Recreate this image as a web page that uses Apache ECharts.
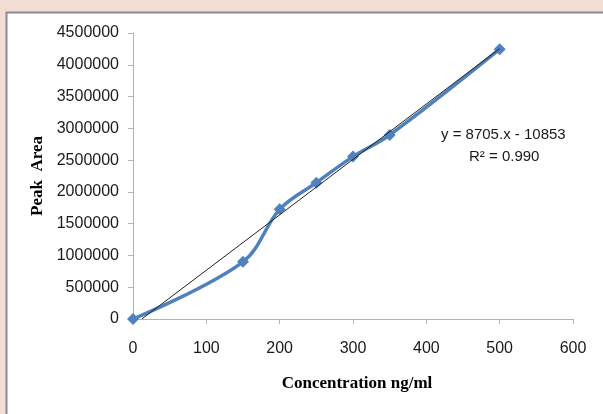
<!DOCTYPE html>
<html>
<head>
<meta charset="utf-8">
<script src="https://cdn.jsdelivr.net/npm/echarts@6/dist/echarts.min.js"></script>
<style>
  html, body { margin: 0; padding: 0; background: #f2ded5; }
  #main { width: 603px; height: 414px; }
</style>
</head>
<body>
<div id="main"></div>
<script>
// data
var concentration = [0, 150, 200, 250, 300, 350, 500];
var peakArea = [0, 900000, 1725000, 2145000, 2555000, 2895000, 4245000];
// linear trendline endpoints
var trendX = [12, 500];
var trendY = [0, 4255000];
var yTicks = [0, 500000, 1000000, 1500000, 2000000, 2500000, 3000000, 3500000, 4000000, 4500000];
var xTicks = [0, 100, 200, 300, 400, 500, 600];

var myChart = echarts.init(document.getElementById('main'));

var option = {
    backgroundColor: '#f2ded5',
    animation: false,
    graphic: [
        {
            type: 'rect',
            z: -10,
            shape: { x: 6.5, y: 12.5, width: 620, height: 420 },
            style: { fill: '#ffffff', stroke: '#8c8c8c', lineWidth: 2 }
        },
        {
            type: 'text',
            left: 441,
            top: 127,
            style: {
                text: 'y = 8705.x - 10853',
                font: '15px "Liberation Sans"',
                fill: '#1a1a1a'
            }
        },
        {
            type: 'text',
            left: 469,
            top: 149,
            style: {
                text: 'R² = 0.990',
                font: '15px "Liberation Sans"',
                fill: '#1a1a1a'
            }
        }
    ],
    grid: {
        left: 133,
        right: 30,
        top: 33,
        bottom: 95
    },
    xAxis: {
        type: 'value',
        min: xTicks[0],
        max: xTicks[xTicks.length - 1],
        interval: 100,
        name: 'Concentration ng/ml',
        nameLocation: 'middle',
        nameGap: 56,
        nameTextStyle: {
            fontFamily: 'Liberation Serif',
            fontWeight: 'bold',
            fontSize: 17,
            color: '#000',
            padding: [0, 0, 0, 8]
        },
        splitLine: { show: false },
        axisLine: { show: true, lineStyle: { color: '#b3b3b3', width: 1 } },
        axisTick: { show: true, length: 5, lineStyle: { color: '#b3b3b3' } },
        axisLabel: {
            margin: 22,
            fontFamily: 'Liberation Sans',
            fontSize: 16,
            color: '#1a1a1a'
        }
    },
    yAxis: {
        type: 'value',
        min: yTicks[0],
        max: yTicks[yTicks.length - 1],
        interval: 500000,
        name: 'Peak  Area',
        nameLocation: 'middle',
        nameRotate: 90,
        nameGap: 86,
        nameTextStyle: {
            fontFamily: 'Liberation Serif',
            fontWeight: 'bold',
            fontSize: 17,
            color: '#000'
        },
        splitLine: { show: false },
        axisLine: { show: true, lineStyle: { color: '#b3b3b3', width: 1 } },
        axisTick: { show: true, length: 5, lineStyle: { color: '#b3b3b3' } },
        axisLabel: {
            margin: 14,
            fontFamily: 'Liberation Sans',
            fontSize: 16,
            color: '#1a1a1a',
            formatter: function (v) { return String(v); }
        }
    },
    series: [
        {
            name: 'Trend',
            type: 'line',
            data: trendX.map(function (x, i) { return [x, trendY[i]]; }),
            showSymbol: false,
            lineStyle: { color: '#222', width: 1 },
            z: 3
        },
        {
            name: 'Peak Area',
            type: 'line',
            smooth: 0.35,
            data: concentration.map(function (x, i) { return [x, peakArea[i]]; }),
            symbol: 'diamond',
            symbolSize: 12,
            itemStyle: { color: '#4f81bd' },
            lineStyle: { color: '#4f81bd', width: 3.5 },
            z: 2
        }
    ]
};

myChart.setOption(option);
</script>
</body>
</html>
